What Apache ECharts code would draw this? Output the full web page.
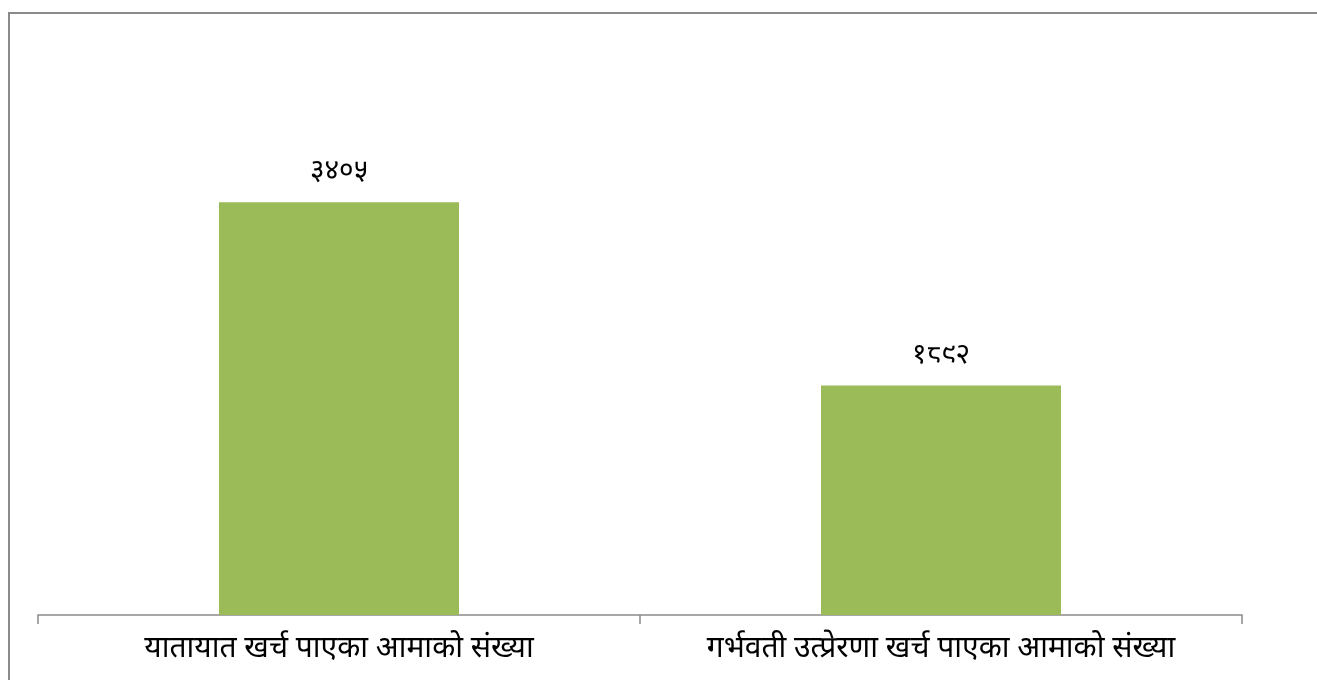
<!DOCTYPE html>
<html lang="ne">
<head>
    <meta charset="utf-8">
    <title>आमाको संख्या</title>
    <style>
        html, body { margin: 0; padding: 0; background: #fff; }
        #chart { width: 1317px; height: 680px; }
    </style>
    <script src="https://cdn.jsdelivr.net/npm/echarts@6/dist/echarts.min.js"></script>
</head>
<body>
    <div id="chart"></div>
    <script type="text/javascript">
        // data
        var categories = ["यातायात खर्च पाएका आमाको संख्या", "गर्भवती उत्प्रेरणा खर्च पाएका आमाको संख्या"];
        var values = [3405, 1892];

        var FONT = "'Noto Sans Devanagari', 'Noto Sans', 'DejaVu Sans', sans-serif";
        var DIGITS = ["०", "१", "२", "३", "४", "५", "६", "७", "८", "९"];
        function toNepali(n) {
            return String(n).replace(/[0-9]/g, function (d) { return DIGITS[+d]; });
        }

        var mychart = echarts.init(document.getElementById("chart"));
        var option = {
            backgroundColor: "#fff",
            animation: false,
            graphic: [{
                type: "rect",
                shape: { x: 9, y: 13, width: 1400, height: 800 },
                style: { fill: "none", stroke: "#8a8a8a", lineWidth: 2 }
            }],
            grid: { left: 38, right: 75, top: 130, bottom: 65 },
            xAxis: {
                type: "category",
                data: categories,
                axisLine: { lineStyle: { color: "#8a8a8a", width: 1.5 } },
                axisTick: { show: true, interval: 0, length: 9, lineStyle: { color: "#8a8a8a", width: 1.5 } },
                axisLabel: { color: "#000", fontSize: 30, fontFamily: FONT, margin: 21, interval: 0, hideOverlap: false }
            },
            yAxis: {
                type: "value",
                min: 0,
                max: 4000,
                show: false,
                splitLine: { show: false }
            },
            series: [{
                type: "bar",
                data: values,
                barWidth: 240,
                itemStyle: { color: "#9bbb59" },
                label: {
                    show: true,
                    position: "top",
                    distance: 14,
                    color: "#000",
                    fontSize: 28,
                    fontFamily: FONT,
                    formatter: function (p) { return toNepali(p.value); }
                }
            }]
        };
        mychart.setOption(option);
    </script>
</body>
</html>
